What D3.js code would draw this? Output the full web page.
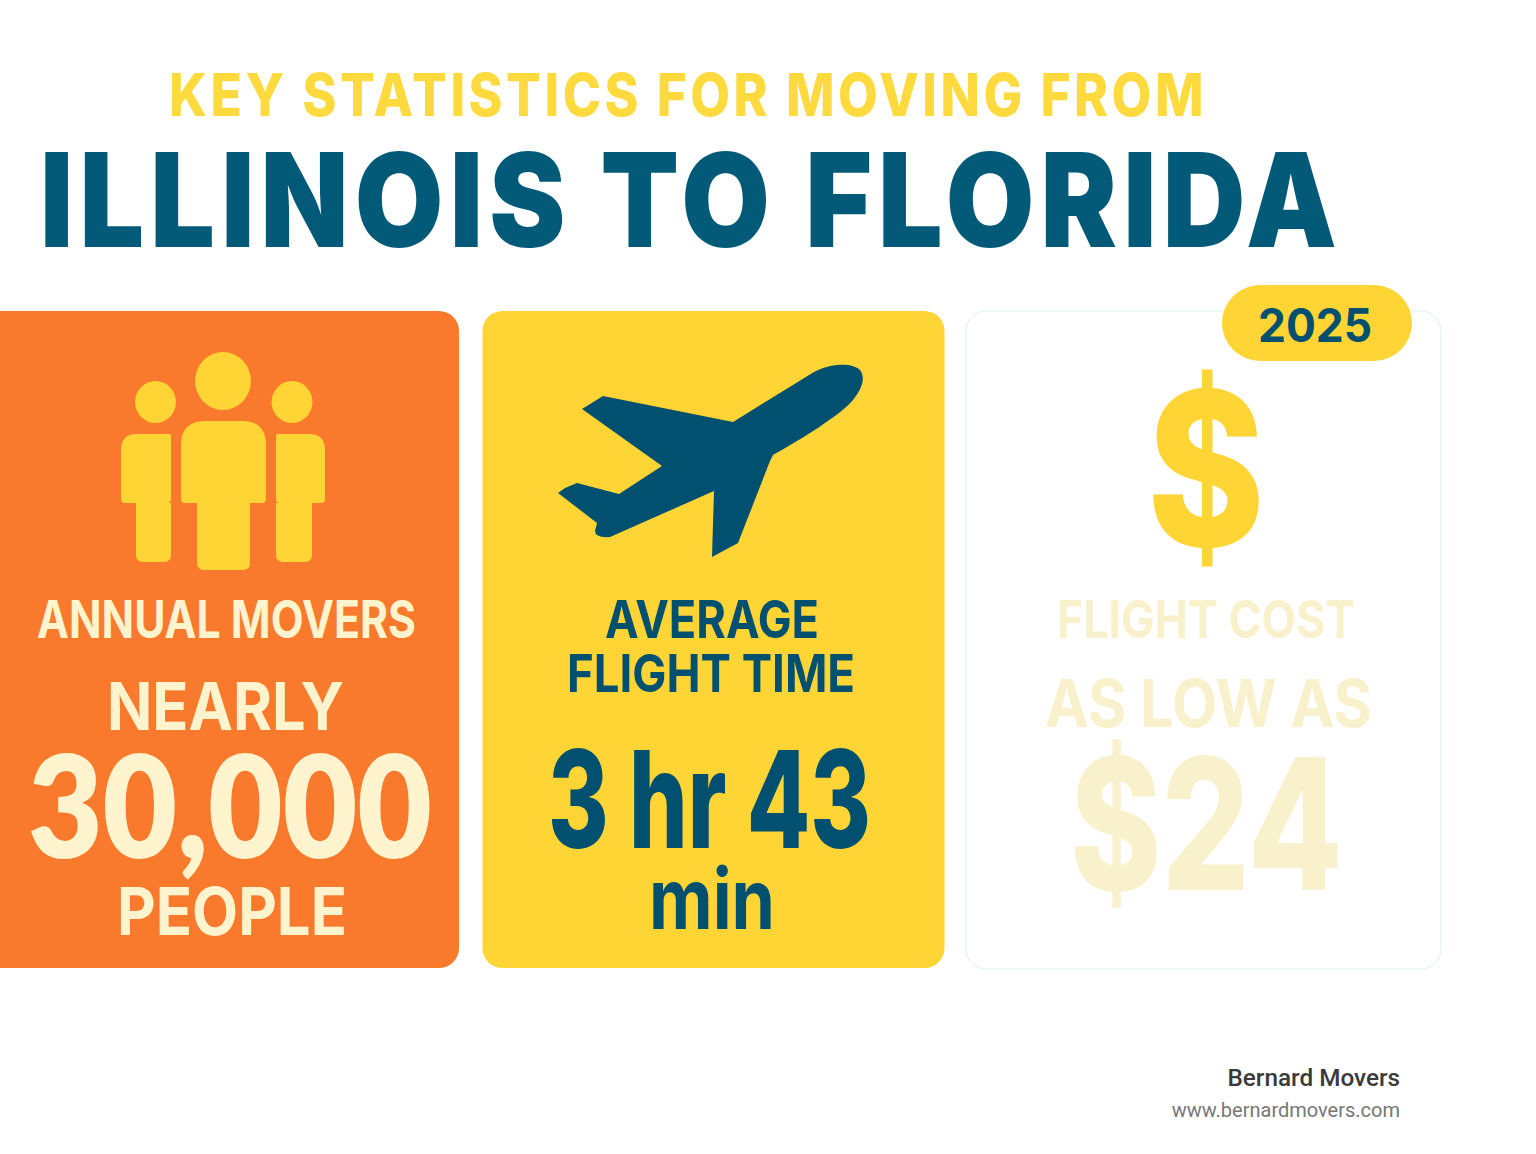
<!DOCTYPE html>
<html>
<head>
<meta charset="utf-8">
<script src="https://d3js.org/d3.v7.min.js"></script>
<style>
  html, body { margin: 0; background: #fff; }
  svg { display: block; }
</style>
</head>
<body>
<div id="chart"></div>
<script>
// text + values
var titleLines = ["KEY STATISTICS FOR MOVING FROM", "ILLINOIS TO FLORIDA"];
var cardNames = ["movers", "time", "cost"];
var cardLabels = [["ANNUAL MOVERS"], ["AVERAGE", "FLIGHT TIME"], ["FLIGHT COST"]];
var cardLeads = ["NEARLY", "", "AS LOW AS"];
var cardValues = ["30,000", "3 hr 43", "$24"];
var cardUnits = ["PEOPLE", "min", ""];
var badgeYear = "2025";
var footerLines = ["Bernard Movers", "www.bernardmovers.com"];

var W = 1536, H = 1154;
var FONT = "Inter, sans-serif";
var navy = "#02506F", titleNavy = "#025A78", yellow = "#FFD435", orange = "#F97A2C", cream = "#FFF4CE", pale = "#F8F1CC";

var svg = d3.select("#chart").append("svg").attr("width", W).attr("height", H);

// puts a line between two x's, stretched to fit
function line(t, x0, x1, y, size, weight, fill, fam, spacing) {
  if (!t) return;
  svg.append("text")
    .attr("x", x0).attr("y", y)
    .attr("textLength", x1 - x0)
    .attr("lengthAdjust", "spacingAndGlyphs")
    .style("font-family", fam || FONT)
    .style("font-size", size + "px")
    .style("font-weight", weight)
    .style("letter-spacing", (spacing || 0) + "px")
    .style("fill", fill)
    .text(t);
}

// title
line(titleLines[0], 169, 1207, 116, 59, 800, "#FFDA3E", FONT, 4);
line(titleLines[1], 40, 1343, 247, 130, 900, titleNavy, FONT, 7);

// cards
var xCard = d3.scaleBand().domain(cardNames).range([-1, 1428]).paddingInner(0.0445);
svg.selectAll("rect.card").data(cardNames).enter().append("rect")
  .attr("class", "card")
  .attr("x", function (d) { return d == "movers" ? -18 : xCard(d); })
  .attr("y", 311)
  .attr("width", function (d) { return d == "movers" ? 477 : d == "cost" ? 475 : xCard.bandwidth(); })
  .attr("height", function (d) { return d == "cost" ? 658 : 657; })
  .attr("rx", 20)
  .attr("fill", function (d) { return d == "movers" ? orange : d == "time" ? yellow : "#fff"; })
  .attr("stroke", function (d) { return d == "cost" ? "#DDF3EC" : "none"; });

// badge
svg.append("rect").attr("x", 1222).attr("y", 285).attr("width", 190).attr("height", 76).attr("rx", 38).attr("fill", yellow);
line(badgeYear, 1258, 1372, 342, 46, 700, navy);

// people icon
var people = svg.append("g").attr("fill", yellow);
[[155.5, 402, 20.5, 21], [223, 381, 28, 29], [292, 402, 20.5, 21]].forEach(function (h) {
  people.append("ellipse").attr("cx", h[0]).attr("cy", h[1]).attr("rx", h[2]).attr("ry", h[3]);
});
// a0 a1 arms, l0 l1 legs, top, armpit, bottom, shoulder radii
function body(a0, a1, l0, l1, top, pit, bot, rl, rr) {
  var p = d3.path();
  p.moveTo(a0 + rl, top);
  p.lineTo(a1 - rr, top);
  p.quadraticCurveTo(a1, top, a1, top + rr);
  p.lineTo(a1, pit - 4);
  p.quadraticCurveTo(a1, pit, a1 - 4, pit);
  p.lineTo(l1, pit);
  p.lineTo(l1, bot - 7);
  p.quadraticCurveTo(l1, bot, l1 - 7, bot);
  p.lineTo(l0 + 7, bot);
  p.quadraticCurveTo(l0, bot, l0, bot - 7);
  p.lineTo(l0, pit);
  p.lineTo(a0 + 4, pit);
  p.quadraticCurveTo(a0, pit, a0, pit - 4);
  p.lineTo(a0, top + rl);
  p.quadraticCurveTo(a0, top, a0 + rl, top);
  p.closePath();
  people.append("path").attr("d", p.toString());
}
body(121, 171, 136, 171, 434, 503, 562, 16, 2);
body(181, 266, 197, 250, 421, 503, 570, 24, 24);
body(276, 325, 276, 312, 434, 503, 562, 2, 16);

// plane icon
var plane = d3.path();
plane.moveTo(814, 372);
plane.bezierCurveTo(828, 364, 850, 362, 859, 369);
plane.bezierCurveTo(866, 376, 863, 388, 853, 400);
plane.bezierCurveTo(842, 414, 800, 440, 773, 455);
plane.lineTo(770, 461);
plane.lineTo(738, 543);
plane.lineTo(712, 557);
plane.lineTo(714, 491);
plane.lineTo(610, 537);
plane.quadraticCurveTo(595, 538, 595, 531);
plane.lineTo(597, 523);
plane.lineTo(558, 493);
plane.lineTo(565, 488);
plane.lineTo(577, 483);
plane.lineTo(619, 494);
plane.lineTo(662, 466);
plane.lineTo(582, 409);
plane.lineTo(603, 396);
plane.lineTo(733, 422);
plane.closePath();
svg.append("path").attr("d", plane.toString()).attr("fill", navy);

// dollar icon
line("$", 1147, 1265, 546, 214, 800, yellow);

// card texts
line(cardLabels[0][0], 37, 416, 638, 52, 700, cream);
line(cardLeads[0], 107, 344, 730, 66, 700, cream);
line(cardValues[0], 28, 432, 858, 142, 800, cream, "Lato, sans-serif");
line(cardUnits[0], 117, 347, 935, 66, 700, cream);

line(cardLabels[1][0], 605, 819, 638, 52, 700, navy);
line(cardLabels[1][1], 567, 855, 692, 52, 700, navy);
line(cardValues[1], 548, 871, 848, 135, 800, navy);
line(cardUnits[1], 649, 775, 929, 84, 700, navy);

line(cardLabels[2][0], 1057, 1355, 638, 52, 700, pale);
line(cardLeads[2], 1045, 1372, 727, 66, 700, pale);
line(cardValues[2], 1070, 1343, 890, 183, 800, pale);

// footer
svg.append("text").attr("x", 1400).attr("y", 1086).attr("text-anchor", "end")
  .style("font-family", "Roboto, sans-serif").style("font-size", "24.3px").style("font-weight", 500)
  .style("fill", "#3a3a3a").text(footerLines[0]);
svg.append("text").attr("x", 1400).attr("y", 1117).attr("text-anchor", "end")
  .style("font-family", "Roboto, sans-serif").style("font-size", "20px")
  .style("fill", "#777").text(footerLines[1]);
</script>
</body>
</html>
